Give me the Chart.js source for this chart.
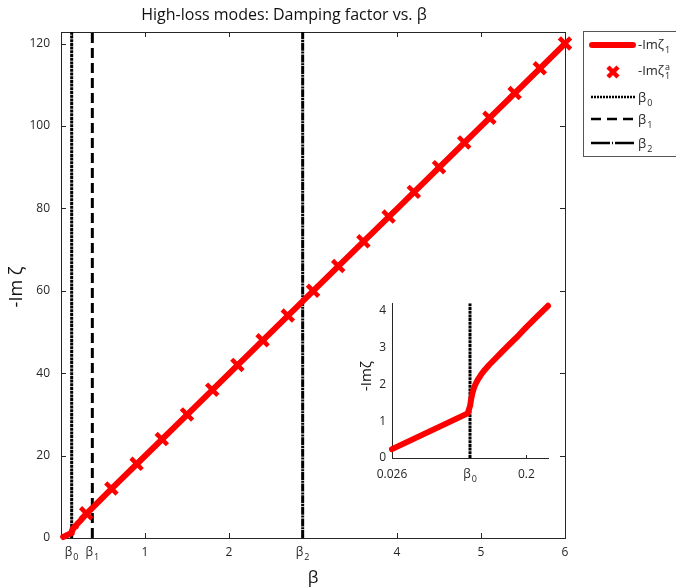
<!DOCTYPE html>
<html><head><meta charset="utf-8">
<script src="https://cdn.jsdelivr.net/npm/chart.js@4.4.0/dist/chart.umd.min.js"></script>
<style>
html,body{margin:0;padding:0;background:#fff;}
#wrap{position:relative;width:676px;height:587px;overflow:hidden;}
#main{position:absolute;left:0;top:0;}
#inset{position:absolute;left:340px;top:290px;}
</style></head><body>
<div id="wrap"><canvas id="main" width="676" height="587"></canvas><canvas id="inset" width="220" height="200"></canvas></div>
<script>
// ---- data ----
const betaCurve = [0.026, 0.124, 0.1272, 0.1285, 0.13, 0.1318, 0.134, 0.137, 0.141, 0.146, 0.152, 0.159, 0.168, 0.178, 0.19, 0.2, 0.214, 0.228, 0.3, 0.6, 1.0, 1.5, 2.0, 2.5, 3.0, 3.5, 4.0, 4.5, 5.0, 5.5, 6.0];
const dampCurve = [0.24, 1.21, 1.42, 1.6, 1.75, 1.88, 2.0, 2.12, 2.25, 2.39, 2.53, 2.68, 2.87, 3.08, 3.33, 3.55, 3.84, 4.13, 5.8, 11.9, 19.9, 29.9, 39.9, 49.9, 59.9, 69.9, 79.9, 89.9, 99.9, 109.9, 120.0];
const betaMarkers = [0.3, 0.6, 0.9, 1.2, 1.5, 1.8, 2.1, 2.4, 2.7, 3.0, 3.3, 3.6, 3.9, 4.2, 4.5, 4.8, 5.1, 5.4, 5.7, 6.0];
const dampMarkers = [6, 12, 18, 24, 30, 36, 42, 48, 54, 60, 66, 72, 78, 84, 90, 96, 102, 108, 114, 120];
const critBeta = [0.127, 0.373, 2.877];
const critSubs = ['0', '1', '2'];
const xTickValues = [0.127, 0.373, 1, 2, 2.877, 4, 5, 6];
const xTickLabels = ['β0', 'β1', '1', '2', 'β2', '4', '5', '6'];
const yTickValues = [0, 20, 40, 60, 80, 100, 120];
const insetXTickValues = [0.026, 0.127, 0.2];
const insetXTickLabels = ['0.026', 'β0', '0.2'];
const insetYTickValues = [0, 1, 2, 3, 4];

const FONT = '"Open Sans", "DejaVu Sans", sans-serif';
const INK = '#262626';
const RED = '#ff0000';
const dashStyles = [[3, 0.7], [10, 5], [8, 0.8, 2, 0.8]];

function pts(xs, ys) { return xs.map((v, i) => ({ x: v, y: ys[i] })); }

// draws "base" followed by optional subscript / superscript
function symText(ctx, base, sub, sup, x, y, size, align, color) {
  ctx.fillStyle = color || INK;
  ctx.textBaseline = 'alphabetic';
  ctx.textAlign = 'left';
  ctx.font = size + 'px ' + FONT;
  const w1 = ctx.measureText(base).width;
  const ss = Math.round(size * 0.72);
  ctx.font = ss + 'px ' + FONT;
  const w2 = Math.max(sub ? ctx.measureText(sub).width : 0, sup ? ctx.measureText(sup).width : 0);
  const total = w1 + w2 + (w2 ? 1 : 0);
  let sx = x;
  if (align === 'center') sx = x - total / 2;
  ctx.font = size + 'px ' + FONT;
  ctx.fillText(base, sx, y);
  ctx.font = ss + 'px ' + FONT;
  if (sub) ctx.fillText(sub, sx + w1 + 1, y + size * 0.32);
  if (sup) ctx.fillText(sup, sx + w1 + 1, y - size * 0.42);
}
function labelParts(lbl) {
  if (lbl.startsWith('β') && lbl.length > 1) return ['β', lbl.slice(1)];
  return [lbl, null];
}

const Y_MAX = 122.8;

const mainDecor = {
  id: 'mainDecor',
  beforeDatasetsDraw(chart) {
    const { ctx, chartArea: a, scales: { x, y } } = chart;
    ctx.save();
    ctx.strokeStyle = INK; ctx.lineWidth = 1;
    ctx.beginPath();
    ctx.moveTo(a.left, a.top + 0.5); ctx.lineTo(a.right + 0.5, a.top + 0.5); ctx.lineTo(a.right + 0.5, a.bottom);
    yTickValues.forEach(v => {
      const p = Math.round(y.getPixelForValue(v)) + 0.5;
      ctx.moveTo(a.left, p); ctx.lineTo(a.left + 5, p);
      ctx.moveTo(a.right, p); ctx.lineTo(a.right - 5, p);
    });
    xTickValues.forEach(v => {
      const p = Math.round(x.getPixelForValue(v)) + 0.5;
      ctx.moveTo(p, a.bottom); ctx.lineTo(p, a.bottom - 5);
      ctx.moveTo(p, a.top); ctx.lineTo(p, a.top + 5);
    });
    ctx.stroke();
    ctx.restore();
  },
  afterDraw(chart) {
    const { ctx, scales: { x } } = chart;
    ctx.save();
    // x tick labels
    xTickValues.forEach((v, i) => {
      const [b, s] = labelParts(xTickLabels[i]);
      symText(ctx, b, s, null, x.getPixelForValue(v), 556, 12, 'center');
    });
    // title
    ctx.fillStyle = '#111';
    ctx.font = '16px ' + FONT;
    ctx.textAlign = 'center'; ctx.textBaseline = 'alphabetic';
    ctx.fillText('High-loss modes: Damping factor vs. β', 284, 20);
    // x axis title
    ctx.font = '17px ' + FONT;
    ctx.textBaseline = 'middle';
    ctx.fillText('β', 313, 578);
    // y axis title
    ctx.save();
    ctx.translate(17, 287);
    ctx.rotate(-Math.PI / 2);
    ctx.font = '18px ' + FONT;
    ctx.textAlign = 'center'; ctx.textBaseline = 'middle';
    ctx.fillText('-Im ζ', 0, 0);
    ctx.restore();
    // legend
    ctx.fillStyle = '#fff';
    ctx.fillRect(583.5, 31.5, 100, 125);
    ctx.strokeStyle = '#555'; ctx.lineWidth = 1;
    ctx.strokeRect(583.5, 31.5, 100, 125);
    // row 1: line
    ctx.strokeStyle = RED; ctx.lineWidth = 6; ctx.lineCap = 'round';
    ctx.beginPath(); ctx.moveTo(592, 45); ctx.lineTo(633, 45); ctx.stroke();
    symText(ctx, '-Imζ', '1', null, 638, 49, 13, 'left');
    // row 2: marker
    ctx.lineWidth = 4.5; ctx.lineCap = 'butt';
    ctx.beginPath();
    ctx.moveTo(608, 67); ctx.lineTo(618, 77);
    ctx.moveTo(618, 67); ctx.lineTo(608, 77);
    ctx.stroke();
    symText(ctx, '-Imζ', '1', 'a', 638, 75, 13, 'left');
    // rows 3-5: critical beta lines
    [97, 119, 143].forEach((yy, i) => {
      ctx.strokeStyle = '#000'; ctx.lineWidth = 2.5; ctx.lineCap = 'butt';
      ctx.setLineDash(i === 0 ? [2, 1] : (i === 1 ? [10, 6] : [19, 2, 1, 2]));
      ctx.beginPath(); ctx.moveTo(591, yy); ctx.lineTo(635, yy); ctx.stroke();
      ctx.setLineDash([]);
      symText(ctx, 'β', critSubs[i], null, 638, yy + 5, 13, 'left');
    });
    ctx.restore();
  }
};

const curveData = pts(betaCurve, dampCurve);

new Chart(document.getElementById('main'), {
  type: 'scatter',
  data: {
    datasets: [
      { label: '-Imζ1', data: curveData, showLine: true, borderColor: RED, borderWidth: 6,
        borderCapStyle: 'round', borderJoinStyle: 'round', pointRadius: 0, order: 1, clip: false },
      { label: '-Imζ1a', data: pts(betaMarkers, dampMarkers), showLine: false, pointStyle: 'crossRot',
        pointRadius: 8, pointBorderWidth: 4.5, pointBorderColor: RED, pointBackgroundColor: RED, order: 0, clip: false },
      ...critBeta.map((b, i) => ({
        label: 'β' + critSubs[i], data: [{ x: b, y: 0 }, { x: b, y: Y_MAX }], showLine: true,
        borderColor: '#000', borderWidth: 3, borderDash: dashStyles[i], pointRadius: 0, order: 2
      }))
    ]
  },
  options: {
    responsive: false, animation: false, events: [],
    layout: { padding: { left: 0, right: 111, top: 32, bottom: 0 } },
    plugins: { legend: { display: false }, title: { display: false }, tooltip: { enabled: false } },
    scales: {
      x: {
        type: 'linear', min: 0, max: 6,
        afterBuildTicks: s => { s.ticks = xTickValues.map(v => ({ value: v })); },
        afterFit: s => { s.height = 49; },
        grid: { display: false, drawTicks: false },
        border: { display: true, color: INK, width: 1 },
        ticks: { display: false }
      },
      y: {
        type: 'linear', min: 0, max: Y_MAX,
        afterBuildTicks: s => { s.ticks = yTickValues.map(v => ({ value: v })); },
        afterFit: s => { s.width = 61; },
        grid: { display: false, drawTicks: false },
        border: { display: true, color: INK, width: 1 },
        ticks: { color: INK, padding: 11, font: { family: FONT, size: 12 } }
      }
    }
  },
  plugins: [mainDecor]
});

// ---- inset ----
const INSET_X_MIN = 0.026, INSET_X_MAX = 0.228, INSET_Y_MAX = 4.2;
const insetDecor = {
  id: 'insetDecor',
  beforeDatasetsDraw(chart) {
    const { ctx, chartArea: a, scales: { x } } = chart;
    ctx.save();
    ctx.strokeStyle = INK; ctx.lineWidth = 1;
    ctx.beginPath();
    insetXTickValues.forEach(v => {
      const p = Math.round(x.getPixelForValue(v)) + 0.5;
      ctx.moveTo(p, a.bottom); ctx.lineTo(p, a.bottom - 3);
    });
    ctx.stroke();
    ctx.restore();
  },
  afterDraw(chart) {
    const { ctx, scales: { x } } = chart;
    ctx.save();
    insetXTickValues.forEach((v, i) => {
      const [b, s] = labelParts(insetXTickLabels[i]);
      symText(ctx, b, s, null, x.getPixelForValue(v), 188, 12, 'center');
    });
    ctx.translate(27, 86);
    ctx.rotate(-Math.PI / 2);
    ctx.font = '15px ' + FONT;
    ctx.fillStyle = '#111';
    ctx.textAlign = 'center'; ctx.textBaseline = 'middle';
    ctx.fillText('-Imζ', 0, 0);
    ctx.restore();
  }
};

new Chart(document.getElementById('inset'), {
  type: 'scatter',
  data: {
    datasets: [
      { data: curveData.filter(p => p.x >= INSET_X_MIN && p.x <= INSET_X_MAX), showLine: true,
        borderColor: RED, borderWidth: 6, borderCapStyle: 'round', borderJoinStyle: 'round',
        pointRadius: 0, order: 1, clip: false },
      { data: [{ x: critBeta[0], y: 0 }, { x: critBeta[0], y: INSET_Y_MAX }], showLine: true,
        borderColor: '#000', borderWidth: 3, borderDash: dashStyles[0], pointRadius: 0, order: 2 }
    ]
  },
  options: {
    responsive: false, animation: false, events: [],
    layout: { padding: { left: 0, right: 12, top: 13, bottom: 0 } },
    plugins: { legend: { display: false }, title: { display: false }, tooltip: { enabled: false } },
    scales: {
      x: {
        type: 'linear', min: INSET_X_MIN, max: INSET_X_MAX,
        afterBuildTicks: s => { s.ticks = insetXTickValues.map(v => ({ value: v })); },
        afterFit: s => { s.height = 32; },
        grid: { display: false, drawTicks: false },
        border: { display: true, color: INK, width: 1 },
        ticks: { display: false }
      },
      y: {
        type: 'linear', min: 0, max: INSET_Y_MAX,
        afterBuildTicks: s => { s.ticks = insetYTickValues.map(v => ({ value: v })); },
        afterFit: s => { s.width = 52; },
        grid: { display: false, drawTicks: false },
        border: { display: true, color: INK, width: 1 },
        ticks: { color: INK, padding: 6, font: { family: FONT, size: 12 } }
      }
    }
  },
  plugins: [insetDecor]
});
</script>
</body></html>
